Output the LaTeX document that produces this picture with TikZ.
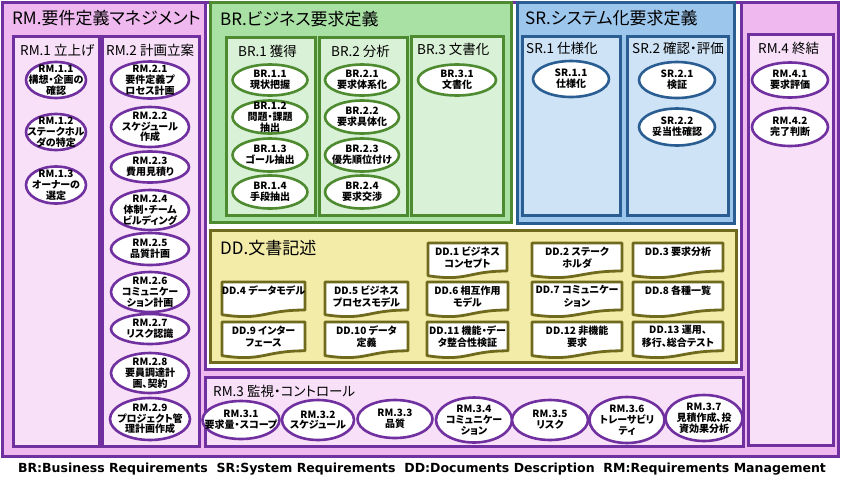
\documentclass[tikz,border=0pt]{standalone}
\usepackage{graphicx}
\usepackage{fontspec}
\setmainfont{Noto Sans CJK JP}[RawFeature={+palt}]
\newfontfamily\legendfont{DejaVu Sans}
\usetikzlibrary{shapes.geometric}
\definecolor{rmpurple}{HTML}{7030A0}
\definecolor{rmpink}{HTML}{EFB8EF}
\definecolor{rmlight}{HTML}{F8E1F8}
\definecolor{brgreen}{HTML}{4E8A30}
\definecolor{brfill}{HTML}{A9E1A5}
\definecolor{brlight}{HTML}{D9F1D6}
\definecolor{srblue}{HTML}{2A5E93}
\definecolor{srfill}{HTML}{9DC6EC}
\definecolor{srlight}{HTML}{CFE3F6}
\definecolor{ddolive}{HTML}{6F6A1D}
\definecolor{ddfill}{HTML}{F3EBA8}
\tikzset{
  areabox/.style={line width=3pt, draw=#1},
  titletext/.style={anchor=west, inner sep=0pt, font=\fontsize{17}{19}\selectfont},
  coltext/.style={anchor=west, inner sep=0pt, font=\fontsize{13.5}{15}\selectfont},
  procshape/.style={ellipse, draw=#1, fill=white, line width=2.6pt, inner sep=0pt},
  proctext/.style={align=center, inner sep=0pt, font=\bfseries\fontsize{10}{10.8}\selectfont},
  docline/.style={draw=ddolive, fill=white, line width=2.8pt, line join=round},
  doctext/.style={anchor=north, align=center, inner sep=0pt, font=\bfseries\fontsize{10}{12.5}\selectfont}
}
\newcommand{\procell}[7]{%
  \node[procshape=#2, minimum width=#5, minimum height=#6] (#1) at (#3,#4) {};
  \node[proctext] (#1t) at (#1.center) {#7};}
\newcommand{\ddoc}[6]{%
  \pgfmathsetmacro{\ddw}{#4-#2}%
  \pgfmathsetmacro{\ddh}{#5-#3}%
  \draw[docline] (#2,#3) -- (#4,#3) -- (#4,{#3+0.80*\ddh}) .. controls ({#2+0.5*\ddw},{#3+0.80*\ddh}) and ({#2+0.5*\ddw},{#3+1.11*\ddh}) .. (#2,{#3+0.934*\ddh}) -- cycle;
  \node[doctext] (#1) at ({(#2+#4)/2},{#3+3.5}) {#6};}
\begin{document}
\begin{tikzpicture}[x=1pt,y=-1pt]
\useasboundingbox (0,0) rectangle (843,488);
% RM outer area
\draw[areabox=rmpurple, fill=rmpink] (2,2) rectangle (838,456);
\draw[areabox=rmpurple, fill=white] (205,2) rectangle (741,369);
\draw[areabox=rmpurple, fill=rmlight] (13,36) rectangle (99,446);
\draw[areabox=rmpurple, fill=rmlight] (102,36) rectangle (199,446);
\draw[areabox=rmpurple, fill=rmlight] (748,34) rectangle (833,445);
\draw[areabox=rmpurple, fill=rmlight] (205,377) rectangle (743,446);
% BR area
\draw[areabox=brgreen, fill=brfill] (210,2) rectangle (511,222);
\draw[areabox=brgreen, fill=brlight] (226,37) rectangle (315,215);
\draw[areabox=brgreen, fill=brlight] (319,37) rectangle (407,215);
\draw[areabox=brgreen, fill=brlight] (411,36) rectangle (503,215);
% SR area
\draw[areabox=srblue, fill=srfill] (517,2) rectangle (734,223);
\draw[areabox=srblue, fill=srlight] (522,36) rectangle (620,215);
\draw[areabox=srblue, fill=srlight] (627,36) rectangle (728,215);
% DD area
\draw[areabox=ddolive, fill=ddfill] (210,230) rectangle (736,362);

% titles
\node[titletext] (rmtitle) at (12,18) {RM.要件定義マネジメント};
\node[titletext] (brtitle) at (220,19) {BR.ビジネス要求定義};
\node[titletext] (srtitle) at (525,18) {SR.システム化要求定義};
\node[titletext] (ddtitle) at (220,248) {DD.文書記述};
\node[coltext] (rm1title) at (20,50) {RM.1 立上げ};
\node[coltext] (rm2title) at (106,50) {RM.2 計画立案};
\node[coltext] (br1title) at (238,51) {BR.1 獲得};
\node[coltext] (br2title) at (331,51) {BR.2 分析};
\node[coltext] (br3title) at (417,49) {BR.3 文書化};
\node[coltext] (sr1title) at (526,48) {SR.1 仕様化};
\node[coltext] (sr2title) at (632,48) {SR.2 確認・評価};
\node[coltext] (rm4title) at (758,48) {RM.4 終結};
\node[coltext] (rm3title) at (213,391) {RM.3 監視・コントロール};

% RM.1
\procell{rm11}{rmpurple}{56}{80}{60}{36}{RM.1.1\\構想・企画の\\確認}
\procell{rm12}{rmpurple}{56}{132}{60}{36}{RM.1.2\\ステークホル\\ダの特定}
\procell{rm13}{rmpurple}{56}{185}{60}{37}{RM.1.3\\オーナーの\\選定}
% RM.2
\procell{rm21}{rmpurple}{150}{80}{78}{37}{RM.2.1\\要件定義プ\\ロセス計画}
\procell{rm22}{rmpurple}{150}{127}{78}{40}{RM.2.2\\スケジュール\\作成}
\procell{rm23}{rmpurple}{150}{167}{78}{31}{RM.2.3\\費用見積り}
\procell{rm24}{rmpurple}{150}{210}{78}{40}{RM.2.4\\体制・チーム\\ビルディング}
\procell{rm25}{rmpurple}{150}{249}{78}{32}{RM.2.5\\品質計画}
\procell{rm26}{rmpurple}{150}{292}{78}{40}{RM.2.6\\コミュニケー\\ション計画}
\procell{rm27}{rmpurple}{150}{329}{78}{30}{RM.2.7\\リスク認識}
\procell{rm28}{rmpurple}{150}{373}{78}{40}{RM.2.8\\要員調達計\\画、契約}
\procell{rm29}{rmpurple}{150}{419}{80}{42}{RM.2.9\\プロジェクト管\\理計画作成}
% BR
\procell{br11}{brgreen}{270}{80}{75}{31}{BR.1.1\\現状把握}
\procell{br12}{brgreen}{270}{117}{75}{33}{BR.1.2\\問題・課題\\抽出}
\procell{br13}{brgreen}{270}{155}{75}{33}{BR.1.3\\ゴール抽出}
\procell{br14}{brgreen}{270}{192}{75}{33}{BR.1.4\\手段抽出}
\procell{br21}{brgreen}{362}{80}{74}{31}{BR.2.1\\要求体系化}
\procell{br22}{brgreen}{362}{117}{74}{33}{BR.2.2\\要求具体化}
\procell{br23}{brgreen}{362}{155}{74}{33}{BR.2.3\\優先順位付け}
\procell{br24}{brgreen}{362}{192}{74}{33}{BR.2.4\\要求交渉}
\procell{br31}{brgreen}{457}{80}{78}{31}{BR.3.1\\文書化}
% SR
\procell{sr11}{srblue}{571}{79}{76}{36}{SR.1.1\\仕様化}
\procell{sr21}{srblue}{677}{80}{76}{36}{SR.2.1\\検証}
\procell{sr22}{srblue}{677}{127}{76}{37}{SR.2.2\\妥当性確認}
% RM.4
\procell{rm41}{rmpurple}{790}{80}{76}{35}{RM.4.1\\要求評価}
\procell{rm42}{rmpurple}{790}{127}{76}{38}{RM.4.2\\完了判断}
% RM.3
\procell{rm31}{rmpurple}{241}{420}{77}{38}{RM.3.1\\要求量・スコープ}
\procell{rm32}{rmpurple}{318}{420}{72}{40}{RM.3.2\\スケジュール}
\procell{rm33}{rmpurple}{395}{419}{75}{38}{RM.3.3\\品質}
\procell{rm34}{rmpurple}{474}{420}{76}{45}{RM.3.4\\コミュニケー\\ション}
\procell{rm35}{rmpurple}{550}{420}{76}{40}{RM.3.5\\リスク}
\procell{rm36}{rmpurple}{627}{420}{75}{46}{RM.3.6\\トレーサビリ\\ティ}
\procell{rm37}{rmpurple}{704}{418}{77}{46}{RM.3.7\\見積作成、投\\資効果分析}

% DD documents
\ddoc{dd1}{428}{243}{507}{278}{DD.1 ビジネス\\コンセプト}
\ddoc{dd2}{532}{243}{622}{278}{DD.2 ステーク\\ホルダ}
\ddoc{dd3}{633}{243}{723}{278}{DD.3 要求分析}
\ddoc{dd4}{222}{282}{305}{317}{DD.4 データモデル}
\ddoc{dd5}{325}{282}{408}{317}{DD.5 ビジネス\\プロセスモデル}
\ddoc{dd6}{427}{282}{508}{317}{DD.6 相互作用\\モデル}
\ddoc{dd7}{532}{282}{622}{317}{DD.7 コミュニケー\\ション}
\ddoc{dd8}{633}{282}{723}{317}{DD.8 各種一覧}
\ddoc{dd9}{222}{322}{305}{358}{DD.9 インター\\フェース}
\ddoc{dd10}{325}{322}{408}{358}{DD.10 データ\\定義}
\ddoc{dd11}{427}{322}{508}{358}{DD.11 機能・デー\\タ整合性検証}
\ddoc{dd12}{532}{322}{622}{358}{DD.12 非機能\\要求}
\ddoc{dd13}{633}{322}{723}{358}{DD.13 運用、\\移行、総合テスト}

% legend
\node[inner sep=0pt] (legend) at (422,469) {\resizebox{808pt}{!}{\legendfont\bfseries\fontsize{13}{15}\selectfont BR:Business Requirements\ \ SR:System Requirements\ \ DD:Documents Description\ \ RM:Requirements Management}};
\end{tikzpicture}
\end{document}
